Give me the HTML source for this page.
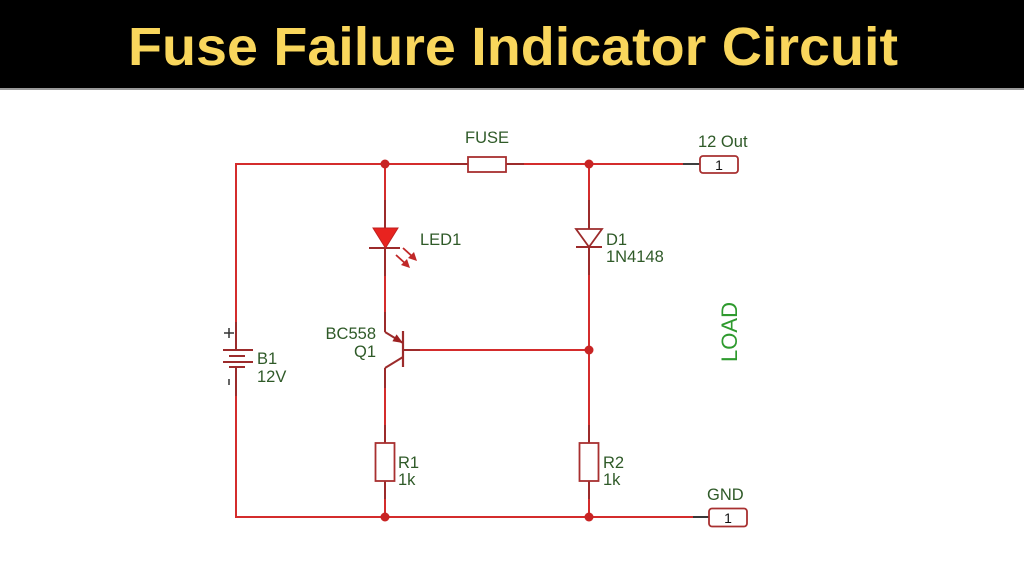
<!DOCTYPE html>
<html>
<head>
<meta charset="utf-8">
<style>
  html,body{margin:0;padding:0;background:#fff;}
  svg{display:block;}
  .lbl{font-family:"Liberation Sans",Arial,sans-serif;font-size:16.5px;fill:#2f5a28;}
</style>
</head>
<body>
<svg width="1024" height="576" viewBox="0 0 1024 576" xmlns="http://www.w3.org/2000/svg">
  <rect x="0" y="0" width="1024" height="576" fill="#ffffff"/>
  <!-- Title bar -->
  <rect x="0" y="0" width="1024" height="88" fill="#000000"/>
  <rect x="0" y="88" width="1024" height="2" fill="#9a9a9a"/>
  <text x="128" y="65" font-family="Liberation Sans, Arial, sans-serif" font-weight="bold" font-size="54" fill="#f9d65c" textLength="770" lengthAdjust="spacingAndGlyphs">Fuse Failure Indicator Circuit</text>

  <g fill="none" stroke-linecap="butt">
    <!-- bright wires -->
    <g stroke="#d42c2c" stroke-width="2">
      <!-- top wire -->
      <line x1="236" y1="164" x2="450" y2="164"/>
      <line x1="524" y1="164" x2="683" y2="164"/>
      <!-- left wire -->
      <line x1="236" y1="163" x2="236" y2="322"/>
      <line x1="236" y1="396" x2="236" y2="518"/>
      <!-- bottom wire -->
      <line x1="235" y1="517" x2="693" y2="517"/>
      <!-- LED column -->
      <line x1="385" y1="164" x2="385" y2="200"/>
      <line x1="385" y1="276" x2="385" y2="312"/>
      <line x1="385" y1="388" x2="385" y2="425"/>
      <line x1="385" y1="499" x2="385" y2="517"/>
      <!-- D1 column -->
      <line x1="589" y1="164" x2="589" y2="200"/>
      <line x1="589" y1="275" x2="589" y2="425"/>
      <line x1="589" y1="499" x2="589" y2="517"/>
      <!-- base wire -->
      <line x1="420" y1="350" x2="589" y2="350"/>
    </g>
    <!-- component leads (darker) -->
    <g stroke="#9c2b2b" stroke-width="2">
      <line x1="450" y1="164" x2="468" y2="164"/>
      <line x1="506" y1="164" x2="524" y2="164"/>
      <line x1="236" y1="322" x2="236" y2="350"/>
      <line x1="236" y1="367" x2="236" y2="396"/>
      <line x1="385" y1="200" x2="385" y2="228"/>
      <line x1="385" y1="248" x2="385" y2="276"/>
      <line x1="385" y1="312" x2="385" y2="332"/>
      <line x1="385" y1="332" x2="403" y2="343"/>
      <line x1="403" y1="357" x2="385" y2="368"/>
      <line x1="385" y1="368" x2="385" y2="388"/>
      <line x1="385" y1="425" x2="385" y2="443"/>
      <line x1="385" y1="481" x2="385" y2="499"/>
      <line x1="589" y1="200" x2="589" y2="229"/>
      <line x1="589" y1="247" x2="589" y2="275"/>
      <line x1="589" y1="425" x2="589" y2="443"/>
      <line x1="589" y1="481" x2="589" y2="499"/>
      <line x1="403" y1="350" x2="420" y2="350"/>
      <!-- transistor base bar -->
      <line x1="403" y1="331" x2="403" y2="367" stroke-width="2.2"/>
      <!-- LED bar -->
      <line x1="369" y1="248" x2="400" y2="248"/>
      <!-- D1 -->
      <polygon points="576,229 602,229 589,247" stroke-width="1.8"/>
      <line x1="576" y1="247" x2="602" y2="247"/>
      <!-- battery plates -->
      <line x1="223" y1="350" x2="253" y2="350"/>
      <line x1="229" y1="356" x2="245" y2="356"/>
      <line x1="223" y1="362" x2="253" y2="362"/>
      <line x1="229" y1="367" x2="245" y2="367"/>
      <!-- battery + / - -->
      <line x1="224" y1="333" x2="234" y2="333" stroke="#333" stroke-width="1.5"/>
      <line x1="229" y1="328" x2="229" y2="338" stroke="#333" stroke-width="1.5"/>
      <line x1="229" y1="379" x2="229" y2="385" stroke="#333" stroke-width="1.5"/>
    </g>
    <!-- fuse -->
    <rect x="468" y="157" width="38" height="15" stroke="#a83030" stroke-width="1.8" fill="#fff"/>
    <!-- resistors -->
    <rect x="375.5" y="443" width="19" height="38" stroke="#a83030" stroke-width="1.8" fill="#fff"/>
    <rect x="579.5" y="443" width="19" height="38" stroke="#a83030" stroke-width="1.8" fill="#fff"/>
    <!-- LED arrows -->
    <g stroke="#c02828" stroke-width="1.8">
      <line x1="396" y1="255" x2="407" y2="265"/>
      <line x1="403" y1="248" x2="414" y2="258"/>
    </g>
    <!-- terminal black stubs -->
    <line x1="683" y1="164" x2="700" y2="164" stroke="#222" stroke-width="1.8"/>
    <line x1="693" y1="517" x2="709" y2="517" stroke="#222" stroke-width="1.8"/>
    <!-- terminals -->
    <rect x="700" y="156" width="38" height="17" rx="3" stroke="#a83030" stroke-width="1.8" fill="#fff"/>
    <rect x="709" y="508.5" width="38" height="18" rx="3" stroke="#a83030" stroke-width="1.8" fill="#fff"/>
  </g>

  <!-- LED triangle -->
  <polygon points="373,228 398,228 385.5,248" fill="#e8231f" stroke="#c02020" stroke-width="1"/>
  <!-- LED arrowheads -->
  <polygon points="410,268 401,265 407,259" fill="#c02828"/>
  <polygon points="417,261 408,258 414,252" fill="#c02828"/>
  <!-- transistor arrow -->
  <polygon points="403,343 392.4,341.2 396.6,334.4" fill="#9c2020"/>

  <!-- junction dots -->
  <g fill="#c82424">
    <circle cx="385" cy="164" r="4.5"/>
    <circle cx="589" cy="164" r="4.5"/>
    <circle cx="589" cy="350" r="4.5"/>
    <circle cx="385" cy="517" r="4.5"/>
    <circle cx="589" cy="517" r="4.5"/>
  </g>

  <!-- labels -->
  <text class="lbl" x="465" y="143">FUSE</text>
  <text class="lbl" x="698" y="147">12 Out</text>
  <text class="lbl" x="420" y="245">LED1</text>
  <text class="lbl" x="606" y="245">D1</text>
  <text class="lbl" x="606" y="262">1N4148</text>
  <text class="lbl" x="376" y="339" text-anchor="end">BC558</text>
  <text class="lbl" x="376" y="357" text-anchor="end">Q1</text>
  <text class="lbl" x="257" y="364">B1</text>
  <text class="lbl" x="257" y="382">12V</text>
  <text class="lbl" x="398" y="468">R1</text>
  <text class="lbl" x="398" y="485">1k</text>
  <text class="lbl" x="603" y="468">R2</text>
  <text class="lbl" x="603" y="485">1k</text>
  <text class="lbl" x="707" y="500">GND</text>
  <text x="719" y="170" font-family="Liberation Sans, Arial, sans-serif" font-size="14" fill="#111" text-anchor="middle">1</text>
  <text x="728" y="523" font-family="Liberation Sans, Arial, sans-serif" font-size="14" fill="#111" text-anchor="middle">1</text>
  <text x="0" y="0" transform="translate(737,362) rotate(-90)" font-family="Liberation Sans, Arial, sans-serif" font-size="22" fill="#2e9a2e" textLength="60" lengthAdjust="spacingAndGlyphs">LOAD</text>
</svg>
</body>
</html>
